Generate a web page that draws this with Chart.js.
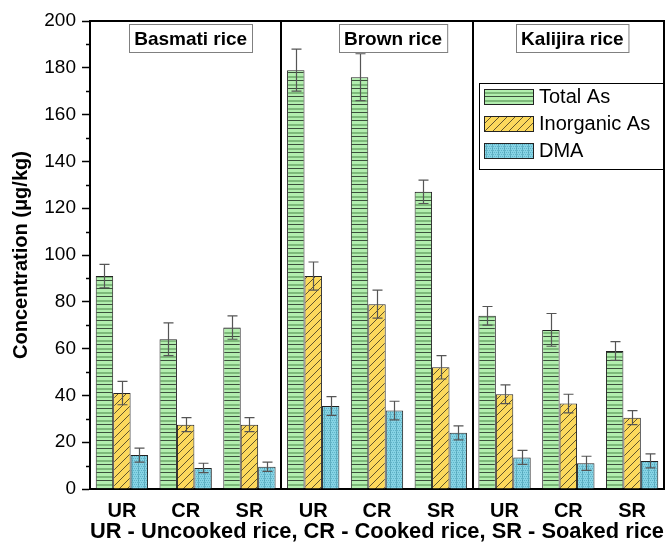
<!DOCTYPE html>
<html>
<head>
<meta charset="utf-8">
<script src="https://cdn.jsdelivr.net/npm/chart.js@4/dist/chart.umd.min.js"></script>
<style>
  html, body { margin: 0; padding: 0; background: #fff; }
  #wrap { width: 665px; height: 550px; position: relative; }
</style>
</head>
<body>
<div id="wrap"><canvas id="c" width="665" height="550"></canvas></div>
<script>
// Arsenic species in three rice varieties under three treatments
const categories = ['UR', 'CR', 'SR', 'UR', 'CR', 'SR', 'UR', 'CR', 'SR'];
const riceGroups = ['Basmati rice', 'Brown rice', 'Kalijira rice'];
const seriesNames = ['Total As', 'Inorganic As', 'DMA'];

const totalAs      = [91, 64, 69, 179, 176, 127, 74, 68, 59];
const totalAsErr   = [5, 7, 5, 9, 10, 5, 4, 7, 4];
const inorganicAs  = [41, 27.5, 27.5, 91, 79, 52, 40.5, 36.5, 30.5];
const inorganicErr = [5, 3, 3, 6, 6, 5, 4, 4, 3];
const dma          = [14.5, 9, 9.5, 35.5, 33.5, 24, 13.5, 11, 12];
const dmaErr       = [3, 2, 2, 4, 4, 3, 3, 3, 3];

const yTicks = [0, 20, 40, 60, 80, 100, 120, 140, 160, 180, 200];
const footnote = 'UR - Uncooked rice, CR - Cooked rice, SR - Soaked rice';

// ---- fill patterns ----
function tile(w, h, paint) {
  const t = document.createElement('canvas');
  t.width = w; t.height = h;
  const g = t.getContext('2d');
  paint(g, w, h);
  return document.getElementById('c').getContext('2d').createPattern(t, 'repeat');
}
const greenPattern = tile(8, 8, (g, w, h) => {
  g.fillStyle = '#b2eeae'; g.fillRect(0, 0, w, h);
  g.fillStyle = '#3b4f3b'; g.fillRect(0, 0, w, 1);
  g.fillStyle = '#7db97a'; g.fillRect(0, 4, w, 2);
});
const yellowPattern = tile(8, 8, (g, w, h) => {
  g.fillStyle = '#fcd95c'; g.fillRect(0, 0, w, h);
  g.strokeStyle = '#3a3320'; g.lineWidth = 0.8;
  g.beginPath();
  g.moveTo(-1, h + 1); g.lineTo(w + 1, -1);
  g.moveTo(-1, 1); g.lineTo(1, -1);
  g.moveTo(w - 1, h + 1); g.lineTo(w + 1, h - 1);
  g.stroke();
});
const cyanPattern = tile(6, 4, (g, w, h) => {
  g.fillStyle = '#86d3e4'; g.fillRect(0, 0, w, h);
  g.fillStyle = '#5fb4c9';
  g.fillRect(0, 0, 1, 1); g.fillRect(2, 0, 1, 1); g.fillRect(4, 0, 1, 1);
  g.fillRect(1, 2, 1, 1); g.fillRect(3, 2, 1, 1); g.fillRect(5, 2, 1, 1);
  g.fillStyle = 'rgba(60,140,160,0.45)'; g.fillRect(0, 0, 1, h);
});
const patterns = [greenPattern, yellowPattern, cyanPattern];
const errors = [totalAsErr, inorganicErr, dmaErr];

// horizontal nudge of each group caption relative to its group centre
const captionShift = [5, 16, 4];

// ---- plugins ----
const panelFrame = {
  id: 'panelFrame',
  afterDatasetsDraw(chart) {
    const { ctx, chartArea: a, scales: { x } } = chart;
    ctx.save();
    ctx.strokeStyle = '#000';
    ctx.lineWidth = 2;
    ctx.beginPath();
    ctx.moveTo(a.left, a.top); ctx.lineTo(a.right, a.top); ctx.lineTo(a.right, a.bottom);
    [2, 5].forEach(i => {
      const xs = Math.round((x.getPixelForValue(i) + x.getPixelForValue(i + 1)) / 2);
      ctx.moveTo(xs, a.top); ctx.lineTo(xs, a.bottom);
    });
    ctx.stroke();
    // group captions
    ctx.font = 'bold 19px "Liberation Sans", Arial, sans-serif';
    ctx.textAlign = 'center';
    ctx.textBaseline = 'middle';
    riceGroups.forEach((name, gi) => {
      const cx = (x.getPixelForValue(gi * 3) + x.getPixelForValue(gi * 3 + 2)) / 2 + captionShift[gi];
      const w = ctx.measureText(name).width + 10;
      const bx = Math.round(cx - w / 2) + 0.5, by = a.top + 3.5;
      ctx.fillStyle = '#fff';
      ctx.fillRect(bx, by, w, 28);
      ctx.strokeStyle = '#808080'; ctx.lineWidth = 1;
      ctx.strokeRect(bx, by, w, 28);
      ctx.fillStyle = '#000';
      ctx.fillText(name, cx, by + 15);
    });
    ctx.restore();
  }
};

const errorBars = {
  id: 'errorBars',
  afterDatasetsDraw(chart) {
    const { ctx, scales: { y } } = chart;
    ctx.save();
    ctx.strokeStyle = '#555';
    ctx.lineWidth = 1.2;
    chart.data.datasets.forEach((ds, di) => {
      const meta = chart.getDatasetMeta(di);
      meta.data.forEach((bar, i) => {
        const v = ds.data[i], e = errors[di][i];
        const yt = y.getPixelForValue(v + e), yb = y.getPixelForValue(v - e);
        const xc = Math.round(bar.x) + 0.5;
        ctx.beginPath();
        ctx.moveTo(xc, yt); ctx.lineTo(xc, yb);
        ctx.moveTo(xc - 5, yt); ctx.lineTo(xc + 5, yt);
        ctx.moveTo(xc - 5, yb); ctx.lineTo(xc + 5, yb);
        ctx.stroke();
      });
    });
    ctx.restore();
  }
};

const minorTicks = {
  id: 'minorTicks',
  afterDraw(chart) {
    const { ctx, scales: { y } } = chart;
    ctx.save();
    ctx.strokeStyle = '#000';
    ctx.lineWidth = 1.5;
    ctx.beginPath();
    for (let v = 10; v < 200; v += 20) {
      const py = Math.round(y.getPixelForValue(v)) + 0.5;
      ctx.moveTo(y.right - 4, py); ctx.lineTo(y.right, py);
    }
    ctx.stroke();
    ctx.restore();
  }
};

const boxLegend = {
  id: 'boxLegend',
  afterDraw(chart) {
    const { ctx, chartArea: a } = chart;
    const left = 479, top = 83, right = a.right, bottom = 170;
    ctx.save();
    ctx.fillStyle = '#fff';
    ctx.fillRect(left, top, right - left, bottom - top);
    ctx.strokeStyle = '#000'; ctx.lineWidth = 1;
    ctx.strokeRect(left + 0.5, top + 0.5, right - left - 1, bottom - top - 1);
    ctx.font = '20px "Liberation Sans", Arial, sans-serif';
    ctx.textBaseline = 'middle';
    chart.data.datasets.forEach((ds, i) => {
      const sy = 89 + i * 27;
      ctx.fillStyle = ds.backgroundColor;
      ctx.fillRect(484, sy, 49, 15);
      ctx.strokeStyle = '#222';
      ctx.strokeRect(484.5, sy + 0.5, 49, 15);
      ctx.fillStyle = '#000';
      ctx.fillText(ds.label, 539, sy + 8);
    });
    ctx.restore();
  }
};

new Chart(document.getElementById('c'), {
  type: 'bar',
  data: {
    labels: categories,
    datasets: [
      { label: seriesNames[0], data: totalAs, backgroundColor: patterns[0] },
      { label: seriesNames[1], data: inorganicAs, backgroundColor: patterns[1] },
      { label: seriesNames[2], data: dma, backgroundColor: patterns[2] }
    ].map(d => Object.assign(d, { borderColor: '#222', borderWidth: 1, borderSkipped: 'bottom' }))
  },
  options: {
    responsive: false,
    animation: false,
    devicePixelRatio: 1,
    layout: { padding: { top: 21, right: 1, left: 0, bottom: 0 } },
    datasets: { bar: { categoryPercentage: 0.82, barPercentage: 1.0 } },
    plugins: { legend: { display: false }, tooltip: { enabled: false } },
    scales: {
      x: {
        offset: true,
        grid: { display: true, drawOnChartArea: false, drawTicks: false },
        border: { display: true, color: '#000', width: 2 },
        ticks: {
          color: '#000', padding: 10,
          font: { family: '"Liberation Sans", Arial, sans-serif', size: 20, weight: 'bold' }
        },
        title: {
          display: true, text: footnote, color: '#000',
          padding: { top: 0, bottom: 5 },
          font: { family: '"Liberation Sans", Arial, sans-serif', size: 22, weight: 'bold' }
        },
        afterFit(s) { s.height = 61; }
      },
      y: {
        min: 0, max: 200,
        afterBuildTicks(s) { s.ticks = yTicks.map(v => ({ value: v })); },
        grid: { display: true, drawOnChartArea: false, drawTicks: true, tickLength: 8, tickColor: '#000', tickWidth: 1.5 },
        border: { display: true, color: '#000', width: 2 },
        ticks: {
          color: '#000', padding: 6, autoSkip: false,
          font: { family: '"Liberation Sans", Arial, sans-serif', size: 19 }
        },
        title: {
          display: true, text: 'Concentration (μg/kg)', color: '#000',
          padding: { top: 9, bottom: 0 },
          font: { family: '"Liberation Sans", Arial, sans-serif', size: 20, weight: 'bold' }
        },
        afterFit(s) { s.width = 90; }
      }
    }
  },
  plugins: [panelFrame, errorBars, minorTicks, boxLegend]
});
</script>
</body>
</html>
